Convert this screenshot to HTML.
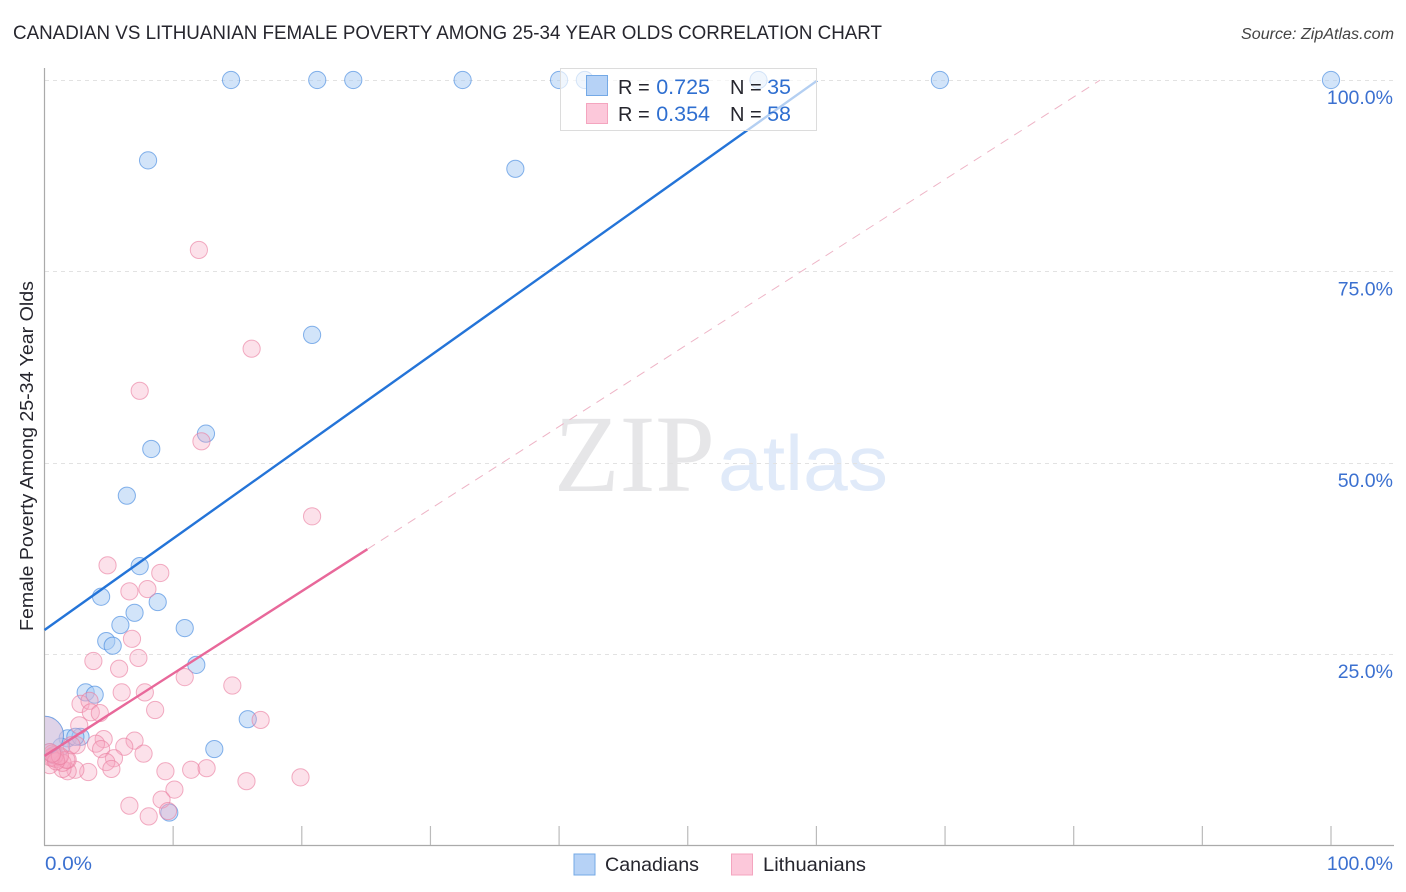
<!DOCTYPE html>
<html lang="en">
<head>
<meta charset="utf-8">
<title>Canadian vs Lithuanian Female Poverty Among 25-34 Year Olds Correlation Chart</title>
<style>
html,body{margin:0;padding:0;background:#fff;}
svg{display:block;font-family:"Liberation Sans",sans-serif;}
</style>
</head>
<body>
<svg id="chart" width="1406" height="892" viewBox="0 0 1406 892" xmlns="http://www.w3.org/2000/svg">
  <defs>
    <clipPath id="plot-clip"><rect x="45" y="60" width="1349" height="785"/></clipPath>
  </defs>
  <rect width="1406" height="892" fill="#fff"/>
  <text x="13" y="39" font-size="19" fill="#26262e" textLength="869" lengthAdjust="spacingAndGlyphs">CANADIAN VS LITHUANIAN FEMALE POVERTY AMONG 25-34 YEAR OLDS CORRELATION CHART</text>
  <text x="1241" y="39" font-size="15.5" font-style="italic" fill="#444" textLength="153" lengthAdjust="spacingAndGlyphs">Source: ZipAtlas.com</text>
  <text transform="translate(33,456) rotate(-90)" font-size="18.5" fill="#26262e" text-anchor="middle" textLength="350" lengthAdjust="spacingAndGlyphs">Female Poverty Among 25-34 Year Olds</text>

  <g>
    <text x="554" y="491" font-family="'Liberation Serif',serif" font-size="110" fill="#e6e6e8" textLength="161" lengthAdjust="spacingAndGlyphs">ZIP</text>
    <text x="718" y="490" font-size="78" fill="#e0eaf9" textLength="170" lengthAdjust="spacingAndGlyphs">atlas</text>
  </g>

  <g id="grid"></g>
  <g id="axes"></g>
  <g id="points-canadians" clip-path="url(#plot-clip)"></g>
  <g id="points-lithuanians" clip-path="url(#plot-clip)"></g>
  <g id="trends"></g>
  <g id="ylabels"></g>
  <g id="xlabels"></g>

  <g>
    <rect x="560.5" y="68.5" width="256" height="62" fill="#fff" fill-opacity="0.66" stroke="#dcdcdc"/>
    <rect x="586.5" y="75.5" width="21" height="20" fill="#b6d2f6" stroke="#74a9e6"/>
    <rect x="586.5" y="103.5" width="21" height="20" fill="#fcc8da" stroke="#f4a5bf"/>
    <g font-size="20">
      <text x="618" y="94" fill="#26262e">R =</text>
      <text x="710" y="94" fill="#2f6fd0" text-anchor="end" font-size="21.5">0.725</text>
      <text x="730" y="94" fill="#26262e">N =</text>
      <text x="791" y="94" fill="#2f6fd0" text-anchor="end" font-size="21.5">35</text>
      <text x="618" y="121" fill="#26262e">R =</text>
      <text x="710" y="121" fill="#2f6fd0" text-anchor="end" font-size="21.5">0.354</text>
      <text x="730" y="121" fill="#26262e">N =</text>
      <text x="791" y="121" fill="#2f6fd0" text-anchor="end" font-size="21.5">58</text>
    </g>
  </g>

  <g>
    <rect x="574" y="854" width="21" height="21" fill="#b6d2f6" stroke="#74a9e6"/>
    <text x="605" y="871" font-size="19.5" fill="#26262e" textLength="94" lengthAdjust="spacingAndGlyphs">Canadians</text>
    <rect x="731.5" y="854" width="21" height="21" fill="#fcc8da" stroke="#f4a5bf"/>
    <text x="763" y="871" font-size="19.5" fill="#26262e" textLength="103" lengthAdjust="spacingAndGlyphs">Lithuanians</text>
  </g>
</svg>
<script>
const xTickValues = [0,10,20,30,40,50,60,70,80,90,100];
const yGridValues = [25,50,75,100];
const yTickLabels = ["25.0%","50.0%","75.0%","100.0%"];
const xEndLabels = ["0.0%","100.0%"];

const canadiansX = [14.5,21.2,24.0,32.5,40.0,42.0,55.5,69.6,100,8.05,36.6,20.8,12.55,8.3,6.4,7.4,4.4,8.8,7.0,5.9,10.9,4.8,5.3,11.8,3.2,3.9,15.8,13.2,1.8,2.8,2.4,1.3,0.4,0.7,9.7];
const canadiansY = [100,100,100,100,100,100,100,100,100,89.5,88.4,66.7,53.8,51.8,45.7,36.5,32.5,31.8,30.4,28.8,28.4,26.7,26.1,23.6,20.0,19.7,16.5,12.6,14.0,14.2,14.2,12.9,12.2,11.8,4.3];

const lithuaniansX = [12.0,16.1,7.4,12.2,20.8,4.9,9.0,6.6,8.0,6.8,7.3,3.8,5.8,10.9,14.6,6.0,7.8,8.6,2.8,3.5,3.6,4.3,16.8,2.7,4.6,7.0,6.2,7.7,4.0,4.4,5.4,4.8,5.2,3.4,2.4,1.8,1.4,1.8,9.4,11.4,12.6,15.7,19.9,10.1,9.1,6.6,8.1,9.6,2.5,0.4,0.4,0.7,0.9,1.1,1.4,1.7,0.8,2.1,0.5,0.9,1.2,0.6];
const lithuaniansY = [77.8,64.9,59.4,52.8,43.0,36.6,35.6,33.2,33.5,27.0,24.5,24.1,23.1,22.0,20.9,20.0,20.0,17.7,18.5,18.9,17.4,17.3,16.4,15.7,13.9,13.7,12.9,12.0,13.3,12.6,11.4,10.9,10.0,9.6,9.9,9.7,10.0,11.2,9.7,9.9,10.1,8.4,8.9,7.3,6.0,5.2,3.8,4.5,13.1,10.5,12.2,11.4,11.3,11.6,10.8,11.2,11.8,13.1,11.5,11.0,11.7,12.0];

const canadiansLargePoint = [0.0, 14.4];
const lithuaniansLargePoint = [0.0, 14.4];
const canadiansTrend = {intercept: 28.15, slope: 1.195, endX: 60.05};
const lithuaniansTrend = {intercept: 11.7, slope: 1.076, solidEndX: 25.1, dashEndX: 82.05};

const NS = "http://www.w3.org/2000/svg";
const xScale = v => 44.5 + v * 12.865;
const yScale = v => 845.5 - v * 7.655;
function make(tag, parentId, props){
  const el = document.createElementNS(NS, tag);
  for (const k in props) el.setAttribute(k, props[k]);
  document.getElementById(parentId).appendChild(el);
  return el;
}

yGridValues.forEach(v => {
  const g = make("line","grid",{x1:45,x2:1394,y1:Math.round(yScale(v))+0.5,y2:Math.round(yScale(v))+0.5,stroke:"#e2e2e2","stroke-width":1,"stroke-dasharray":"4 4"});
  
  
});

const yAxis = make("line","axes",{x1:44.5,x2:44.5,y1:68,y2:845.5,stroke:"#aaa","stroke-width":1.2});


const xAxis = make("line","axes",{x1:44,x2:1394,y1:845.5,y2:845.5,stroke:"#aaa","stroke-width":1.2});


xTickValues.slice(1).forEach(v => {
  const t = make("line","axes",{x1:xScale(v),x2:xScale(v),y1:826,y2:845,stroke:"#bbb","stroke-width":1.2});
  
  
});

canadiansX.forEach((v,i) => {
  const c = make("circle","points-canadians",{cx:xScale(v),cy:yScale(canadiansY[i]),r:8.6,fill:"#a9cbf3","fill-opacity":0.52,stroke:"#3f86df","stroke-opacity":0.62,"stroke-width":1});
  
  
});
const big = make("circle","points-canadians",{cx:xScale(canadiansLargePoint[0]),cy:yScale(canadiansLargePoint[1]),r:19,fill:"#a9cbf3","fill-opacity":0.5,stroke:"#3f86df","stroke-opacity":0.62,"stroke-width":1});



lithuaniansX.forEach((v,i) => {
  const c = make("circle","points-lithuanians",{cx:xScale(v),cy:yScale(lithuaniansY[i]),r:8.6,fill:"#f7a8c1","fill-opacity":0.34,stroke:"#ea7ea0","stroke-opacity":0.62,"stroke-width":1});
  
  
});
const bigPink = make("circle","points-lithuanians",{cx:xScale(lithuaniansLargePoint[0]),cy:yScale(lithuaniansLargePoint[1]),r:19,fill:"#f7a8c1","fill-opacity":0.3,stroke:"#3f86df","stroke-opacity":0.25,"stroke-width":1});



const blueLine = make("line","trends",{x1:xScale(0),y1:yScale(canadiansTrend.intercept),x2:xScale(canadiansTrend.endX),y2:yScale(canadiansTrend.intercept+canadiansTrend.slope*canadiansTrend.endX),stroke:"#2474d8","stroke-width":2.4});


const pinkLine = make("line","trends",{x1:xScale(0),y1:yScale(lithuaniansTrend.intercept),x2:xScale(lithuaniansTrend.solidEndX),y2:yScale(lithuaniansTrend.intercept+lithuaniansTrend.slope*lithuaniansTrend.solidEndX),stroke:"#e8689a","stroke-width":2.4});


const pinkDash = make("line","trends",{x1:xScale(lithuaniansTrend.solidEndX),y1:yScale(lithuaniansTrend.intercept+lithuaniansTrend.slope*lithuaniansTrend.solidEndX),x2:xScale(lithuaniansTrend.dashEndX),y2:yScale(lithuaniansTrend.intercept+lithuaniansTrend.slope*lithuaniansTrend.dashEndX),stroke:"#eeb4c6","stroke-width":1,"stroke-dasharray":"9 7"});



yGridValues.forEach((v,i) => {
  const t = make("text","ylabels",{x:1393,y:yScale(v)+24,"font-size":19.5,fill:"#3b70d0","text-anchor":"end"});
  t.textContent = yTickLabels[i];
  
  
});
const x0 = make("text","xlabels",{x:45,y:870,"font-size":19.5,fill:"#3b70d0",textLength:47,lengthAdjust:"spacingAndGlyphs"});
x0.textContent = xEndLabels[0];


const x1 = make("text","xlabels",{x:1393,y:870,"font-size":19.5,fill:"#3b70d0","text-anchor":"end"});
x1.textContent = xEndLabels[1];


</script>
</body>
</html>
